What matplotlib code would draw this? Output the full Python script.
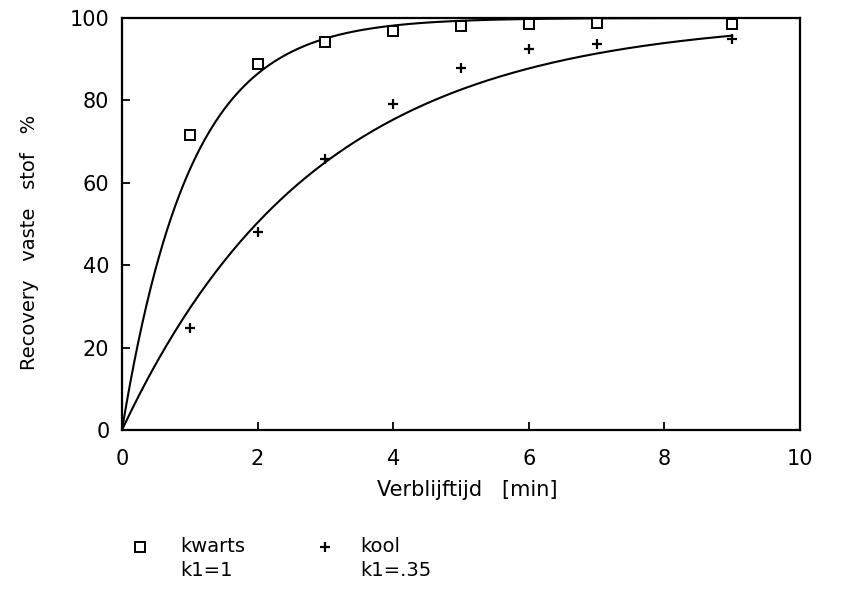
import matplotlib

matplotlib.use("Agg")
import matplotlib.pyplot as plt
import numpy as np
from matplotlib.lines import Line2D

# measured recovery (%) vs residence time (min)
time_min = [1, 2, 3, 4, 5, 6, 7, 9]
kwarts_recovery = [71.6, 88.8, 94.2, 96.8, 98.0, 98.5, 98.8, 98.5]
kool_recovery = [24.8, 48.0, 65.8, 79.1, 87.9, 92.5, 93.7, 95.0]

# first-order rate constants shown in the legend
kwarts_k1 = 1.0
kool_k1 = 0.35
curve_t_end = 9

x_ticks = [0, 2, 4, 6, 8, 10]
y_ticks = [0, 20, 40, 60, 80, 100]

plt.rcParams["font.family"] = ["DejaVu Sans"]

W, H = 851, 602
fig = plt.figure(figsize=(W / 100, H / 100), dpi=100)
ax = fig.add_axes([122 / W, 1 - 430 / H, (800 - 122) / W, (430 - 18) / H])

t = np.linspace(0, curve_t_end, 300)
for k1 in (kwarts_k1, kool_k1):
    ax.plot(t, 100 * (1 - np.exp(-k1 * t)), color="black", linewidth=1.5)

ax.plot(time_min, kwarts_recovery, linestyle="none", marker="s", markersize=7.5,
        markerfacecolor="white", markeredgecolor="black", markeredgewidth=1.4)
ax.plot(time_min, kool_recovery, linestyle="none", marker="+", markersize=7,
        color="black", markeredgewidth=1.6)

ax.set_xlim(0, 10)
ax.set_ylim(0, 100)
ax.set_xticks(x_ticks)
ax.set_yticks(y_ticks)
ax.tick_params(direction="in", length=6, width=1.3, labelsize=15)
ax.tick_params(axis="x", pad=14)
ax.tick_params(axis="y", pad=9)
for s in ax.spines.values():
    s.set_linewidth(1.6)

ax.set_xlabel("Verblijftijd   [min]", fontsize=15, va="center")
ax.xaxis.set_label_coords(0.509, -0.146)
ax.set_ylabel("Recovery   vaste   stof   %", fontsize=14, va="center")
ax.yaxis.set_label_coords(-0.136, 0.456)

# legend block under the x label
row1, row2 = 1 - 547 / H, 1 - 571 / H
fig.add_artist(Line2D([140 / W], [row1], transform=fig.transFigure,
                      marker="s", markersize=7.5, markerfacecolor="white",
                      markeredgecolor="black", markeredgewidth=1.4))
fig.add_artist(Line2D([325 / W], [row1], transform=fig.transFigure,
                      marker="+", markersize=7, color="black", markeredgewidth=1.6))
fig.text(180 / W, row1, "kwarts", fontsize=14, va="center")
fig.text(180 / W, row2, "k1=1", fontsize=14, va="center")
fig.text(360 / W, row1, "kool", fontsize=14, va="center")
fig.text(360 / W, row2, "k1=.35", fontsize=14, va="center")

fig.savefig("out.png", dpi=100)
plt.close(fig)
